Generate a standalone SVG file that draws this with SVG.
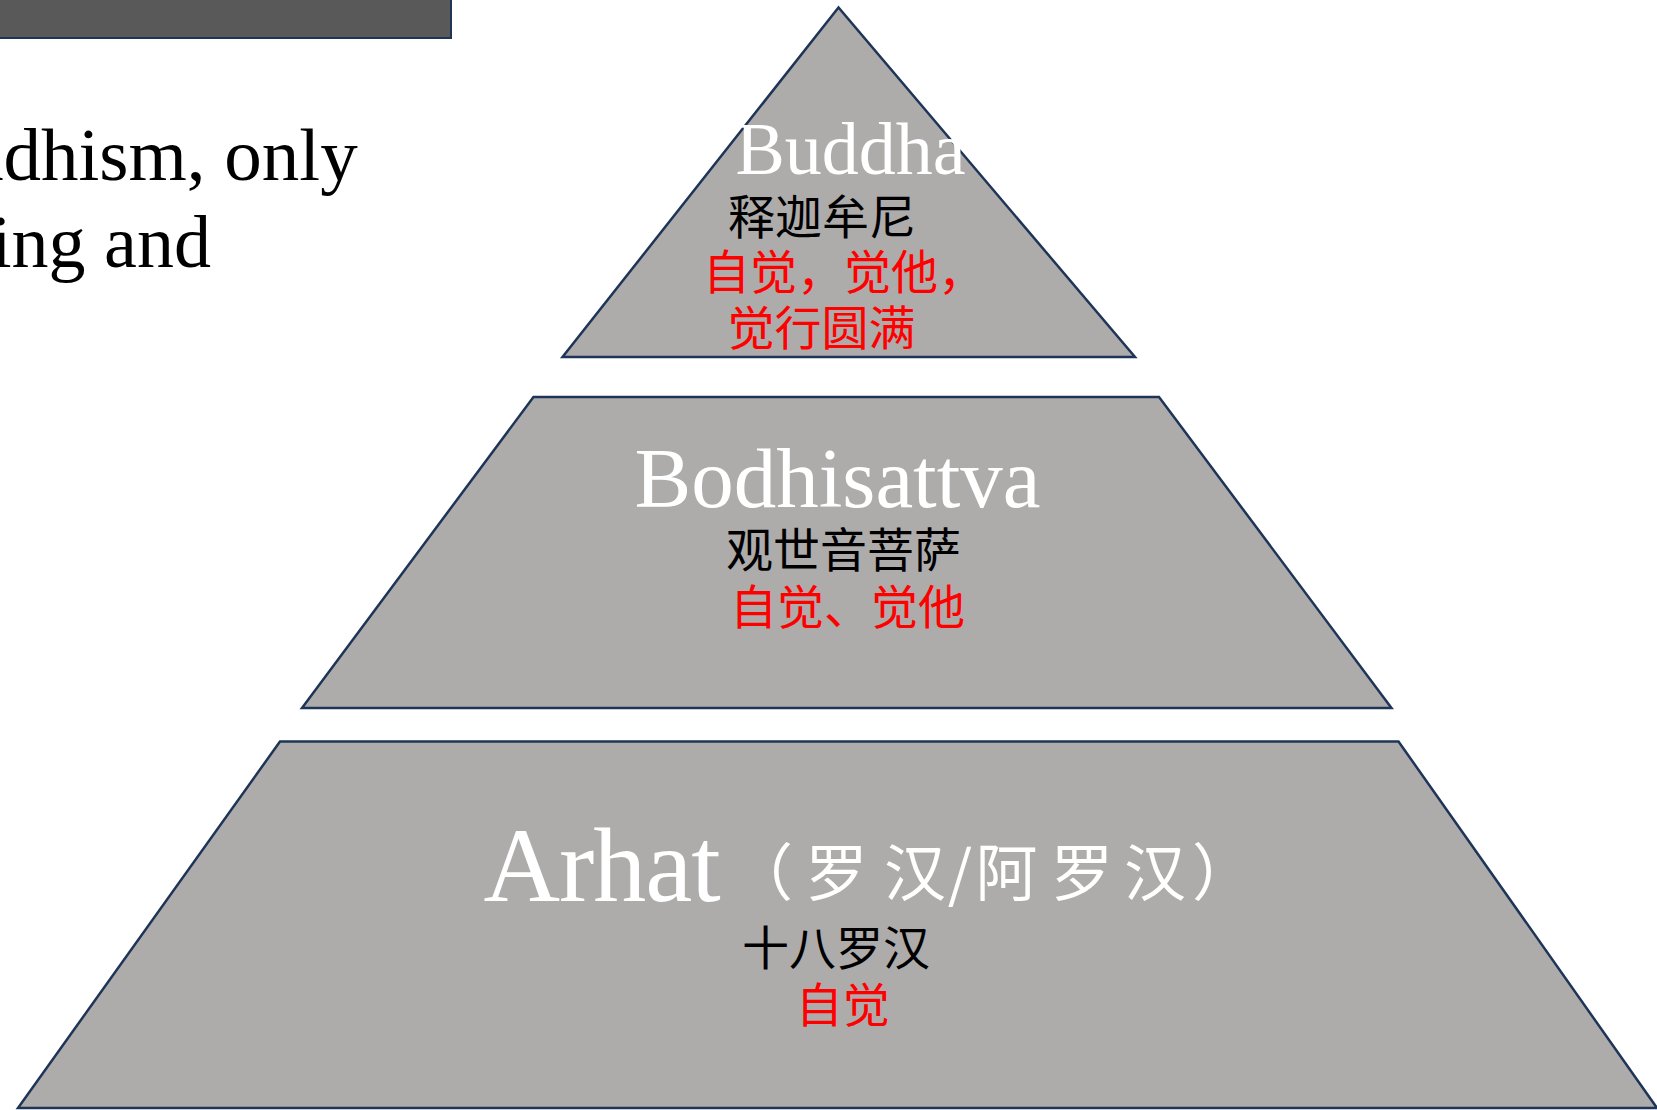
<svg xmlns="http://www.w3.org/2000/svg" width="1657" height="1110" viewBox="0 0 1657 1110">
  <style>
    .tier { fill: #AEABAB; stroke: #1F3558; stroke-width: 2.5; stroke-linejoin: miter; }
    .en { font-family: "Liberation Serif", "Times New Roman", serif; }
    .cn { font-family: "Noto Sans CJK SC", "Noto Sans", sans-serif; font-size: 47px; }
    .white { fill: #FFFFFF; }
    .black { fill: #000000; }
    .red { fill: #FF0000; }
  </style>
  <rect x="0" y="0" width="1657" height="1110" fill="#FFFFFF"/>

  <g id="header-bar">
    <rect x="-3" y="-3" width="454" height="41" fill="#595959" stroke="#1F3558" stroke-width="2"/>
  </g>

  <g id="intro-text">
    <text class="en black" font-size="75" x="-34" y="180">ddhism, only</text>
    <text class="en black" font-size="74" x="-9" y="267">ing and</text>
  </g>

  <g id="connectors"></g>

  <g id="tier-buddha">
    <polygon class="tier" points="838.5,7.5 562.5,357 1135,357"/>
    <text class="en white" font-size="74" x="735.5" y="174">Buddha</text>
    <text class="cn black" x="728" y="233.5">释迦牟尼</text>
    <text class="cn red" x="703" y="288.5">自觉，觉他，</text>
    <text class="cn red" x="727.6" y="345">觉行圆满</text>
  </g>

  <g id="tier-bodhisattva">
    <polygon class="tier" points="533.5,397 1159,397 1391.5,708 302,708"/>
    <text class="en white" font-size="85" x="634.5" y="507.3">Bodhisattva</text>
    <text class="cn black" x="726" y="567">观世音菩萨</text>
    <text class="cn red" x="730" y="623.5">自觉、觉他</text>
  </g>

  <g id="tier-arhat">
    <polygon class="tier" points="280,741.5 1398.5,741.5 1657,1108 18,1108"/>
    <text class="en white" font-size="106" letter-spacing="-1" x="483.4" y="901">Arhat</text>
    <text class="white" font-family="'Noto Sans CJK SC', sans-serif" font-size="62" text-anchor="middle" x="762 836.5 915 960 1006.5 1082 1155 1223" y="896">（罗汉/阿罗汉）</text>
    <text class="cn black" x="742" y="965">十八罗汉</text>
    <text class="cn red" x="795.7" y="1022">自觉</text>
  </g>
</svg>
